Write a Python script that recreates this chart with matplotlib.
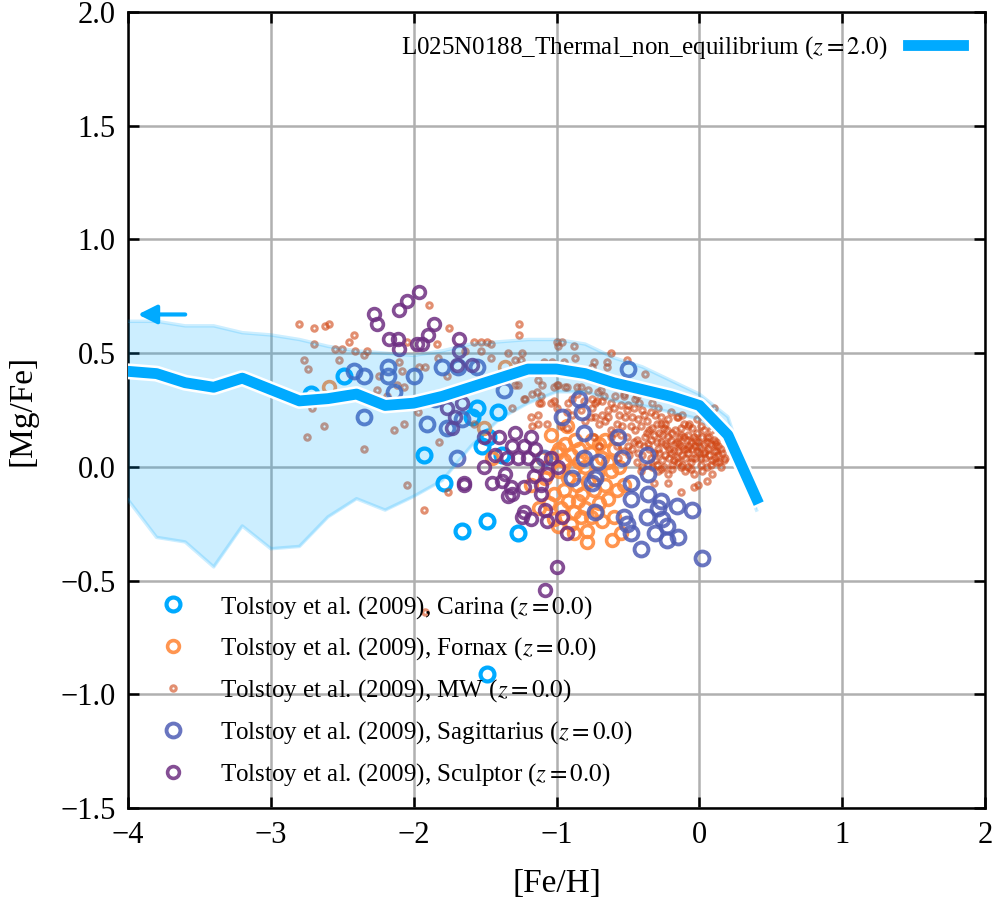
import matplotlib
matplotlib.use('Agg')
import matplotlib.pyplot as plt
import matplotlib.patheffects as pe
import numpy as np

plt.rcParams['font.family'] = ['Liberation Serif', 'DejaVu Serif']
plt.rcParams['mathtext.fontset'] = 'stix'

# simulation median and 16-84 percentile band
sim_feh = [-4.0, -3.8, -3.6, -3.4, -3.2, -3.0, -2.8, -2.6, -2.4, -2.2, -2.0, -1.8,
           -1.6, -1.4, -1.2, -1.0, -0.8, -0.6, -0.4, -0.2, 0.0, 0.2, 0.4]
sim_med = [0.42, 0.41, 0.37, 0.35, 0.39, 0.34, 0.29, 0.30, 0.32, 0.27, 0.28, 0.31,
           0.35, 0.39, 0.43, 0.43, 0.41, 0.37, 0.34, 0.31, 0.27, 0.14, -0.14]
sim_lo = [-0.145, -0.31, -0.33, -0.44, -0.26, -0.36, -0.35, -0.22, -0.14, -0.19, -0.13, -0.06,
          0.09, 0.21, 0.28, 0.33, 0.33, 0.29, 0.27, 0.24, 0.21, 0.12, -0.19]
sim_hi = [0.64, 0.64, 0.62, 0.62, 0.59, 0.58, 0.56, 0.53, 0.51, 0.50, 0.49, 0.51,
          0.54, 0.55, 0.56, 0.56, 0.54, 0.48, 0.44, 0.38, 0.32, 0.22, -0.17]

carina = [(-2.49, 0.40), (-2.72, 0.32), (-1.93, 0.05), (-1.79, -0.07), (-1.66, -0.28),
          (-1.49, -0.24), (-1.27, -0.29), (-1.49, -0.91), (-1.59, 0.22), (-1.41, 0.24),
          (-1.52, 0.09), (-1.38, 0.05), (-1.56, 0.26), (-1.48, 0.13)]

fornax = [(-1.04, 0.14), (-0.93, 0.18), (-1.18, -0.08), (-1.02, -0.23), (-0.88, -0.29),
          (-0.79, -0.28), (-0.79, -0.33), (-0.61, -0.32), (-0.55, -0.29), (-1.45, 0.04),
          (-1.51, 0.17), (-1.36, 0.44), (-2.59, 0.35), (-1.10, 0.04), (-1.06, 0.00),
          (-1.00, 0.06), (-0.98, -0.02), (-0.95, 0.03), (-0.92, -0.05), (-0.90, 0.05),
          (-0.88, -0.01), (-0.86, -0.08), (-0.84, 0.02), (-0.82, -0.12), (-0.80, 0.00),
          (-0.78, -0.06), (-0.76, 0.06), (-0.74, -0.10), (-0.72, -0.03), (-0.70, -0.16),
          (-0.68, 0.04), (-0.66, -0.08), (-0.64, -0.14), (-0.62, -0.02), (-0.60, 0.08),
          (-0.58, -0.10), (-0.95, -0.10), (-0.92, -0.15), (-0.88, -0.20), (-0.85, -0.15),
          (-0.83, -0.22), (-0.80, -0.18), (-0.76, -0.22), (-0.72, -0.20), (-0.68, -0.24),
          (-1.02, -0.12), (-1.05, -0.16), (-1.08, -0.05), (-0.97, -0.18), (-0.90, -0.25),
          (-0.75, 0.12), (-0.70, 0.10), (-0.66, 0.12), (-0.94, 0.10), (-0.87, 0.12),
          (-1.12, -0.18), (-0.98, 0.08), (-0.84, 0.08), (-0.99, -0.26), (-0.64, 0.02),
          (-0.56, 0.00), (-0.60, -0.22), (-0.53, -0.08)]

mw = [(-2.80, 0.63), (-2.70, 0.61), (-2.62, 0.62), (-2.59, 0.63), (-2.70, 0.54),
      (-2.77, 0.47), (-2.74, 0.43), (-2.52, 0.47), (-2.55, 0.52), (-2.50, 0.52),
      (-2.42, 0.58), (-2.45, 0.55), (-2.33, 0.51), (-2.41, 0.51), (-2.35, 0.49),
      (-2.71, 0.26), (-2.63, 0.18), (-2.75, 0.13), (-2.35, 0.08), (-2.14, 0.16),
      (-2.07, 0.19), (-2.26, 0.34), (-2.24, 0.40), (-2.19, 0.31), (-2.12, 0.36),
      (-2.07, 0.35), (-2.08, 0.42), (-2.10, 0.46), (-2.05, 0.55), (-1.89, 0.71),
      (-1.84, 0.54), (-1.75, 0.61), (-1.96, 0.44), (-1.92, 0.44), (-1.83, 0.48),
      (-1.77, 0.40), (-1.97, 0.24), (-1.82, 0.11), (-2.05, -0.08), (-1.76, -0.11),
      (-1.93, -0.19), (-1.92, -0.64), (-1.26, 0.63), (-1.26, 0.58), (-1.58, 0.55),
      (-1.53, 0.55), (-1.49, 0.55), (-1.46, 0.54), (-1.64, 0.51), (-1.53, 0.51),
      (-1.34, 0.50), (-1.25, 0.47), (-1.46, 0.48), (-1.29, 0.36), (-1.27, 0.36),
      (-1.22, 0.30), (-1.31, 0.26), (-1.14, 0.33), (-1.10, 0.36), (-1.11, 0.28),
      (-1.18, 0.22), (-1.13, 0.23), (-1.17, 0.18), (-1.13, 0.19), (-1.07, 0.19),
      (-1.00, 0.55), (-0.99, 0.53), (-0.88, 0.53), (-0.87, 0.48), (-1.00, 0.36),
      (-0.93, 0.35), (-0.86, 0.35), (-0.92, 0.28), (-1.02, 0.29), (-1.00, 0.26),
      (-0.93, 0.24), (-0.89, 0.23), (-0.97, 0.18), (-0.93, 0.17), (-0.81, 0.29),
      (-0.75, 0.26), (-0.76, 0.22), (-0.72, 0.29), (-0.73, 0.22), (-1.58, 0.19),
      (-0.96, 0.55), (-0.62, 0.50), (-0.51, 0.47), (-0.74, 0.46), (-0.65, 0.44),
      (-0.65, 0.46), (-0.75, 0.44), (-0.95, 0.46), (-1.03, 0.46), (-1.09, 0.46),
      (-1.24, 0.50), (-1.29, 0.47), (-1.13, 0.38), (-0.99, 0.36), (-0.94, 0.35),
      (-0.83, 0.35), (-0.78, 0.34), (-0.69, 0.34), (-0.59, 0.31), (-0.53, 0.31),
      (-0.45, 0.30), (-1.17, 0.32), (-1.23, 0.30), (-1.11, 0.31), (-1.02, 0.35),
      (-0.86, 0.32), (-0.67, 0.31), (-0.62, 0.28), (-0.55, 0.27), (-0.50, 0.27),
      (-0.89, 0.30), (-0.75, 0.30), (-1.04, 0.28), (-1.12, 0.28),
      (-0.38, 0.41), (-0.74, 0.41), (-0.62, 0.37), (-0.50, 0.35), (-0.44, 0.31),
      (-0.73, 0.28), (-0.68, 0.23), (-0.64, 0.22), (-0.60, 0.26), (-0.51, 0.25),
      (-0.40, 0.25), (-0.34, 0.24), (-0.27, 0.19), (-0.22, 0.21), (-0.15, 0.22),
      (-0.08, 0.18), (0.01, 0.18), (0.05, 0.13), (0.12, 0.11), (0.17, 0.03),
      (0.15, 0.00), (0.05, -0.06), (-0.04, -0.09), (-0.13, -0.11), (-0.22, -0.07),
      (-0.32, -0.07), (-0.41, -0.02), (-0.13, 0.00), (-0.27, -0.01), (-0.44, 0.02),
      (-0.53, 0.07), (-0.62, 0.13), (-0.70, 0.09), (-0.74, 0.13), (-0.70, 0.19),
      (0.10, 0.26), (0.18, 0.04), (0.12, 0.07), (-0.01, -0.08), (-0.16, 0.22),
      (-0.45, 0.16), (-0.42, 0.10), (-0.40, 0.05), (-0.38, 0.13), (-0.35, 0.08),
      (-0.33, 0.17), (-0.31, 0.03), (-0.30, 0.11), (-0.28, 0.06), (-0.26, 0.14),
      (-0.25, 0.00), (-0.23, 0.09), (-0.21, 0.04), (-0.20, 0.12), (-0.18, 0.07),
      (-0.17, 0.16), (-0.15, 0.02), (-0.14, 0.10), (-0.12, 0.05), (-0.11, 0.13),
      (-0.09, 0.08), (-0.08, 0.00), (-0.06, 0.11), (-0.05, 0.04), (-0.03, 0.09),
      (-0.02, 0.15), (0.00, 0.06), (0.01, 0.01), (0.03, 0.10), (0.04, 0.04),
      (0.06, 0.08), (0.07, 0.13), (0.09, 0.03), (0.10, 0.07), (0.12, 0.02),
      (0.13, 0.05), (-0.36, 0.01), (-0.29, -0.02), (-0.22, -0.03), (-0.19, 0.01),
      (-0.10, -0.02), (-0.04, -0.03), (0.02, -0.02), (-0.43, 0.21), (-0.37, 0.20),
      (-0.27, 0.22), (-0.07, 0.19), (-0.50, 0.09), (-0.48, 0.18), (-0.55, 0.14),
      (-0.58, 0.19), (-0.52, 0.22), (-0.34, 0.12), (-0.24, 0.10), (-0.13, 0.14),
      (-0.03, 0.04), (0.05, 0.00), (0.08, 0.10), (-0.40, 0.00), (-0.32, 0.06),
      (-0.20, 0.06), (-0.08, 0.06), (0.11, 0.10), (-0.62, 0.16), (-0.66, 0.20),
      (-0.46, 0.26), (-0.33, 0.28), (-0.20, 0.24), (-0.68, 0.29), (-0.57, 0.04),
      (-0.47, 0.08), (-0.16, 0.04), (0.15, 0.08), (0.08, 0.16), (-0.02, 0.21),
      # dense core, second pass
      (-0.44, 0.12), (-0.41, 0.18), (-0.39, 0.09), (-0.37, 0.15), (-0.34, 0.04),
      (-0.32, 0.14), (-0.30, 0.19), (-0.29, 0.08), (-0.27, 0.11), (-0.25, 0.17),
      (-0.24, 0.05), (-0.22, 0.13), (-0.21, 0.08), (-0.19, 0.15), (-0.18, 0.03),
      (-0.16, 0.11), (-0.15, 0.07), (-0.13, 0.17), (-0.12, 0.09), (-0.10, 0.04),
      (-0.09, 0.12), (-0.07, 0.09), (-0.06, 0.02), (-0.04, 0.13), (-0.02, 0.07),
      (-0.01, 0.11), (0.01, 0.04), (0.02, 0.13), (0.04, 0.07), (0.05, 0.11),
      (0.07, 0.05), (0.08, 0.01), (0.10, 0.12), (0.11, 0.04), (0.13, 0.09),
      (0.14, 0.02), (0.16, 0.06), (-0.36, 0.10), (-0.33, 0.00), (-0.28, 0.15),
      (-0.26, 0.03), (-0.23, 0.16), (-0.17, 0.10), (-0.14, 0.13), (-0.11, 0.08),
      (-0.08, 0.14), (-0.05, 0.08), (-0.03, 0.12), (0.00, 0.09), (0.03, 0.06),
      (-0.51, 0.13), (-0.49, 0.05), (-0.46, 0.11), (-0.43, 0.06), (-0.54, 0.18),
      (-0.47, 0.22), (-0.39, 0.23), (-0.31, 0.23), (-0.24, 0.19), (-0.11, 0.19),
      (-0.05, 0.17), (0.03, 0.16), (-0.35, 0.16), (-0.30, 0.01), (-0.19, -0.01),
      (-0.12, 0.01), (-0.06, -0.01), (0.09, -0.03), (-0.58, 0.09), (-0.60, 0.15),
      (-0.56, 0.23), (-0.64, 0.25), (-0.42, 0.28), (-0.29, 0.26), (-0.12, 0.23),
      (-0.53, 0.32), (-0.38, 0.33), (-0.80, 0.20), (-0.83, 0.25), (-0.71, 0.33),
      (-0.57, 0.37), (-0.46, 0.35), (-0.66, 0.39), (-0.80, 0.40), (-0.88, 0.41)]

sagittarius = [(-0.57, 0.13), (-0.54, 0.04), (-0.37, 0.05), (-0.36, -0.03), (-0.71, 0.02),
               (-0.73, -0.05), (-0.48, -0.07), (-0.48, -0.14), (-0.36, -0.12), (-0.27, -0.15),
               (-0.29, -0.18), (-0.16, -0.17), (-0.05, -0.19), (-0.73, -0.20), (-0.53, -0.22),
               (-0.51, -0.25), (-0.37, -0.22), (-0.26, -0.23), (-0.23, -0.26), (-0.31, -0.29),
               (-0.48, -0.29), (-0.23, -0.32), (-0.15, -0.31), (-0.41, -0.36), (0.02, -0.40),
               (-0.50, 0.43), (-0.84, 0.30), (-0.82, 0.24), (-0.96, 0.22), (-0.81, 0.15),
               (-0.81, 0.04), (-0.89, -0.05), (-0.75, -0.07), (-1.09, 0.04), (-1.37, 0.34),
               (-1.56, 0.44), (-1.69, 0.44), (-1.80, 0.44), (-1.91, 0.19), (-1.70, 0.04),
               (-1.66, 0.21), (-1.77, 0.17), (-2.42, 0.42), (-2.35, 0.40), (-2.18, 0.44),
               (-2.18, 0.40), (-2.14, 0.33), (-2.35, 0.22), (-2.00, 0.40), (-1.85, 0.30)]

sculptor = [(-2.28, 0.67), (-2.26, 0.63), (-2.10, 0.69), (-2.05, 0.73), (-1.96, 0.77),
            (-1.86, 0.63), (-1.90, 0.58), (-1.98, 0.54), (-1.94, 0.54), (-2.17, 0.56),
            (-2.11, 0.56), (-2.10, 0.52), (-1.68, 0.56), (-1.68, 0.51), (-1.70, 0.45),
            (-1.59, 0.45), (-1.77, 0.26), (-1.71, 0.22), (-1.66, 0.28), (-1.73, 0.17),
            (-1.65, -0.07), (-1.51, 0.13), (-1.51, 0.00), (-1.45, -0.07), (-1.40, 0.13),
            (-1.31, 0.09), (-1.29, 0.15), (-1.23, 0.09), (-1.18, 0.13), (-1.15, 0.08),
            (-1.20, 0.04), (-1.14, 0.01), (-1.07, -0.03), (-1.16, -0.04), (-1.11, -0.08),
            (-1.23, -0.09), (-1.32, -0.09), (-1.38, -0.06), (-1.31, -0.12), (-1.11, -0.12),
            (-1.08, -0.19), (-1.23, -0.20), (-1.24, -0.22), (-1.18, -0.23), (-0.96, -0.22),
            (-0.93, -0.29), (-1.00, -0.44), (-1.08, -0.54), (-1.35, 0.04), (-1.43, 0.05),
            (-1.36, -0.03), (-1.27, 0.04), (-1.04, 0.04), (-0.99, 0.00), (-1.34, -0.13),
            (-1.65, -0.08), (-1.07, -0.24)]

label_obs = 'Tolstoy et al. (2009), {} ($z = 0.0$)'
label_sim = 'L025N0188_Thermal_non_equilibrium ($z = 2.0$)'

c_sim = '#00aaff'

fig = plt.figure(figsize=(9.96, 9.0), dpi=100)
ax = fig.add_axes([0.1285, 0.1022, 0.8605, 0.8845])


def rings(data, color, size, lw, alpha, label):
    d = np.array(data)
    ax.plot(d[:, 0], d[:, 1], 'o', ls='none', mfc='none', mec=color, ms=size,
            mew=lw, alpha=alpha, label=label, zorder=3)


rings(carina, '#00aaff', 10, 3.0, 1.0, label_obs.format('Carina'))
rings(fornax, '#ff8a3d', 8.5, 2.6, 0.9, label_obs.format('Fornax'))
rings(mw, '#d04512', 3.9, 2.2, 0.6, label_obs.format('MW'))
rings(sagittarius, '#4f5db5', 10, 2.8, 0.85, label_obs.format('Sagittarius'))
rings(sculptor, '#6e2f82', 8.5, 2.6, 0.85, label_obs.format('Sculptor'))

ax.fill_between(sim_feh, sim_lo, sim_hi, color=c_sim, alpha=0.2, lw=0, zorder=4)
ax.plot(sim_feh, sim_lo, color=c_sim, alpha=0.2, lw=2.5, zorder=4)
ax.plot(sim_feh, sim_hi, color=c_sim, alpha=0.2, lw=2.5, zorder=4)
line, = ax.plot(sim_feh, sim_med, color=c_sim, lw=7.8, zorder=5, label=label_sim,
                path_effects=[pe.Stroke(linewidth=11.5, foreground='white'), pe.Normal()])

ax.annotate('', xy=(-3.95, 0.67), xytext=(-3.58, 0.67),
            arrowprops=dict(arrowstyle='-|>', color=c_sim, lw=3, mutation_scale=28),
            zorder=6)

ax.set_xlim(-4, 2)
ax.set_ylim(-1.5, 2)
ax.set_xticks([-4, -3, -2, -1, 0, 1, 2])
ax.set_yticks([-1.5, -1.0, -0.5, 0.0, 0.5, 1.0, 1.5, 2.0])
ax.set_xticklabels(['\u22124', '\u22123', '\u22122', '\u22121', '0', '1', '2'])
ax.set_yticklabels(['\u22121.5', '\u22121.0', '\u22120.5', '0.0', '0.5', '1.0', '1.5', '2.0'])
ax.grid(True, color='#b0b0b0', lw=1.8)
ax.set_axisbelow(True)
ax.tick_params(direction='in', length=8, width=1.8, labelsize=22, top=True, right=True, pad=9)
for s in ax.spines.values():
    s.set_linewidth(1.8)
ax.set_xlabel('[Fe/H]', fontsize=24, labelpad=14)
ax.set_ylabel('[Mg/Fe]', fontsize=24, labelpad=16)

handles, labels = ax.get_legend_handles_labels()
leg1 = ax.legend([line], [label_sim], loc='upper right', frameon=False, fontsize=18,
                 markerfirst=False, handlelength=2.2, handletextpad=0.8, borderaxespad=0.5)
ax.add_artist(leg1)
ax.legend(handles[:5], labels[:5], loc='lower left', frameon=False, fontsize=18,
          bbox_to_anchor=(0.0, 0.0), borderaxespad=0.4, handletextpad=0.88,
          labelspacing=0.6)

fig.savefig('out.png', dpi=100)
